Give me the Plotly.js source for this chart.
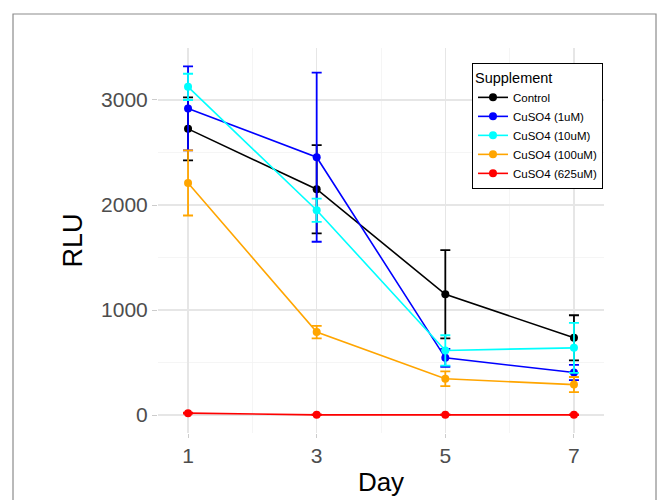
<!DOCTYPE html>
<html>
<head>
<meta charset="utf-8">
<script src="https://cdn.plot.ly/plotly-3.0.1.min.js"></script>
<style>
html,body{margin:0;padding:0;background:#fff;}
#chart{width:658px;height:500px;}
</style>
</head>
<body>
<div id="chart"></div>
<script>
const days = [1, 3, 5, 7];
const seriesNames = ["Control", "CuSO4 (1uM)", "CuSO4 (10uM)", "CuSO4 (100uM)", "CuSO4 (625uM)"];
const seriesColors = ["#000000", "#0000FF", "#00FFFF", "#FFA500", "#FF0000"];
const control = [2725, 2150, 1150, 735];
const controlErr = [300, 420, 420, 215];
const cu1 = [2920, 2455, 545, 405];
const cu1Err = [400, 805, 85, 72];
const cu10 = [3125, 1950, 615, 640];
const cu10Err = [125, 110, 145, 238];
const cu100 = [2210, 790, 345, 290];
const cu100Err = [310, 60, 70, 72];
const cu625 = [18, 2, 2, 2];
const cu625Err = [5, 3, 3, 3];
const xTicks = [1, 3, 5, 7];
const yTicks = [0, 1000, 2000, 3000];

const values = [control, cu1, cu10, cu100, cu625];
const errs = [controlErr, cu1Err, cu10Err, cu100Err, cu625Err];

const traces = values.map((v, i) => ({
  type: "scatter",
  mode: "lines+markers",
  name: seriesNames[i],
  x: days,
  y: v,
  line: {color: seriesColors[i], width: 1.6},
  marker: {color: seriesColors[i], size: 8},
  error_y: {type: "data", array: errs[i], visible: true, color: seriesColors[i], thickness: 1.8, width: 5}
}));

const layout = {
  width: 658,
  height: 500,
  margin: {l: 158, r: 54, t: 48, b: 67},
  paper_bgcolor: "#ffffff",
  plot_bgcolor: "#ffffff",
  font: {family: "Liberation Sans, Arial, sans-serif", color: "#4d4d4d"},
  showlegend: true,
  legend: {
    x: 0.704, y: 0.961, xanchor: "left", yanchor: "top",
    bgcolor: "#ffffff", bordercolor: "#000000", borderwidth: 1,
    font: {size: 11.5, color: "#000000"},
    title: {text: "Supplement", font: {size: 14.5, color: "#000000"}},
    itemwidth: 30
  },
  xaxis: {
    range: [0.533, 7.467],
    tickvals: xTicks,
    ticktext: xTicks.map(String),
    tickfont: {size: 21, color: "#4d4d4d"},
    ticks: "outside", ticklen: 4, tickcolor: "#cccccc",
    showgrid: true, gridcolor: "#e6e6e6", gridwidth: 1.2,
    minor: {dtick: 1, tick0: 0, showgrid: true, gridcolor: "#f3f3f3", gridwidth: 0.8},
    zeroline: false, showline: false,
    title: {text: "Day", font: {size: 26, color: "#000000"}, standoff: 6}
  },
  yaxis: {
    range: [-171, 3495],
    tickvals: yTicks,
    ticktext: yTicks.map(String),
    tickfont: {size: 21, color: "#4d4d4d"},
    ticks: "outside", ticklen: 5, tickcolor: "#cccccc",
    showgrid: true, gridcolor: "#e6e6e6", gridwidth: 1.2,
    minor: {dtick: 500, tick0: 0, showgrid: true, gridcolor: "#f3f3f3", gridwidth: 0.8},
    zeroline: false, showline: false,
    title: {text: "RLU", font: {size: 27, color: "#000000"}, standoff: 10}
  },
  shapes: [{
    type: "rect", xref: "paper", yref: "paper",
    x0: -0.3251, x1: 1.1166, y0: -0.2, y1: 1.0883,
    line: {color: "#8c8c8c", width: 1.2}, fillcolor: "rgba(0,0,0,0)", layer: "below"
  }]
};

Plotly.newPlot("chart", traces, layout, {displayModeBar: false, staticPlot: true});
</script>
</body>
</html>
